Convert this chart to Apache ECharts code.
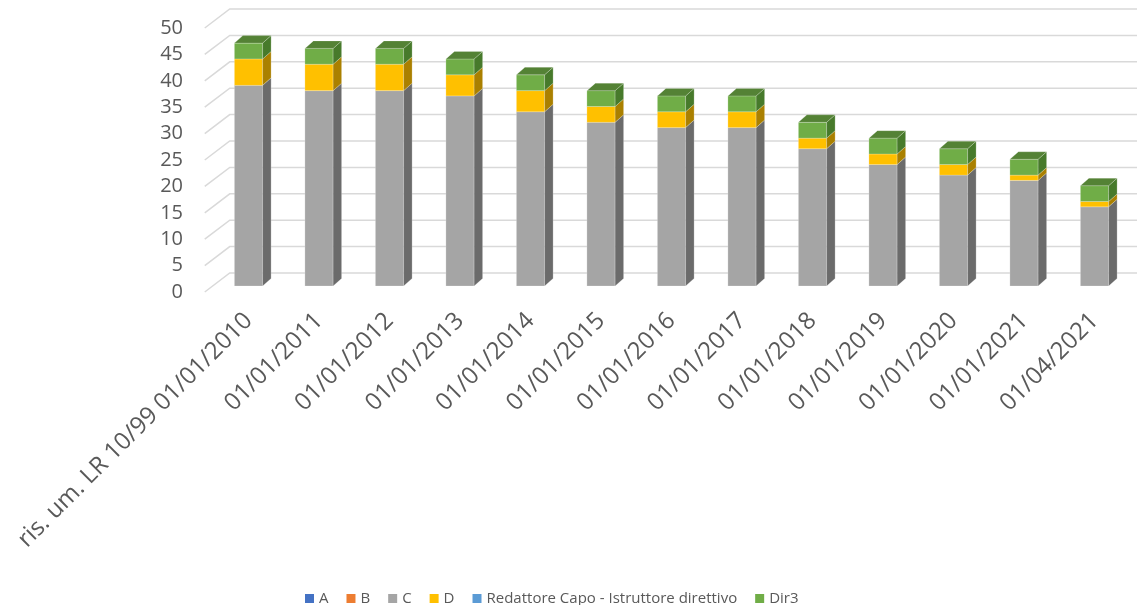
<!DOCTYPE html>
<html>
<head>
<meta charset="utf-8">
<script src="https://cdn.jsdelivr.net/npm/echarts@6/dist/echarts.min.js"></script>
<style>
  html, body { margin: 0; padding: 0; background: #fff; }
  #chart { width: 1137px; height: 605px; }
</style>
</head>
<body>
<div id="chart"></div>
<script>
// Categories (dates) and staff counts per grade
const categories = [
  'ris. um. LR 10/99 01/01/2010', '01/01/2011', '01/01/2012', '01/01/2013',
  '01/01/2014', '01/01/2015', '01/01/2016', '01/01/2017', '01/01/2018',
  '01/01/2019', '01/01/2020', '01/01/2021', '01/04/2021'
];
const seriesNames = ['A', 'B', 'C', 'D', 'Redattore Capo - Istruttore direttivo', 'Dir3'];
const valuesA    = [0, 0, 0, 0, 0, 0, 0, 0, 0, 0, 0, 0, 0];
const valuesB    = [0, 0, 0, 0, 0, 0, 0, 0, 0, 0, 0, 0, 0];
const valuesC    = [38, 37, 37, 36, 33, 31, 30, 30, 26, 23, 21, 20, 15];
const valuesD    = [5, 5, 5, 4, 4, 3, 3, 3, 2, 2, 2, 1, 1];
const valuesRed  = [0, 0, 0, 0, 0, 0, 0, 0, 0, 0, 0, 0, 0];
const valuesDir3 = [3, 3, 3, 3, 3, 3, 3, 3, 3, 3, 3, 3, 3];
const yTicks = [0, 5, 10, 15, 20, 25, 30, 35, 40, 45, 50];

// Face colours: front, side, top
const palette = [
  { front: '#4472C4', side: '#2F5597', top: '#3A62AA' },
  { front: '#ED7D31', side: '#AE5A21', top: '#C5692A' },
  { front: '#A5A5A5', side: '#6B6B6B', top: '#8A8A8A' },
  { front: '#FFC000', side: '#AA8000', top: '#D9A300' },
  { front: '#5B9BD5', side: '#3F72A0', top: '#4E86B8' },
  { front: '#70AD47', side: '#477A2B', top: '#548235' }
];

const FONT = '"Open Sans", "Noto Sans", sans-serif';
// 3D depth offset of each column
const DX = 8.5, DY = -7.5;
// Floor edge offsets relative to the column front plane
const FLOOR_FRONT = { dx: -8.5, dy: 6 };
const FLOOR_BACK = { dx: 16.5, dy: -13 };

const allValues = [valuesA, valuesB, valuesC, valuesD, valuesRed, valuesDir3];

// Build stacked segments: [category, base, top, isTopMost]
const stacked = [];
const cumulative = categories.map(() => 0);
const topIndex = categories.map((_, ci) => {
  let t = -1;
  allValues.forEach((vals, si) => { if (vals[ci] > 0) t = si; });
  return t;
});
allValues.forEach((vals, si) => {
  stacked.push(vals.map((v, ci) => {
    const base = cumulative[ci];
    cumulative[ci] += v;
    return [ci, base, base + v, topIndex[ci] === si ? 1 : 0];
  }));
});

function makeRenderer(colors) {
  return function (params, api) {
    const ci = api.value(0), lo = api.value(1), hi = api.value(2), isTop = api.value(3);
    if (!(hi > lo)) return;
    const pb = api.coord([ci, lo]);
    const pt = api.coord([ci, hi]);
    const bw = api.size([1, 0])[0] * 0.4;
    const x0 = pb[0] - bw / 2, x1 = pb[0] + bw / 2;
    const yb = pb[1], yt = pt[1];
    const edge = 'rgba(255,255,255,0.35)';
    const children = [
      { type: 'rect', shape: { x: x0, y: yt, width: bw, height: yb - yt },
        style: { fill: colors.front, stroke: edge, lineWidth: 0.6 } },
      { type: 'polygon', shape: { points: [[x1, yb], [x1 + DX, yb + DY], [x1 + DX, yt + DY], [x1, yt]] },
        style: { fill: colors.side, stroke: edge, lineWidth: 0.6 } }
    ];
    if (isTop) {
      children.push({ type: 'polygon',
        shape: { points: [[x0, yt], [x1, yt], [x1 + DX, yt + DY], [x0 + DX, yt + DY]] },
        style: { fill: colors.top, stroke: edge, lineWidth: 0.6 } });
    }
    return { type: 'group', children: children };
  };
}

// Back-wall gridlines with the diagonal side-wall segment
function renderGrid(params, api) {
  const v = api.value(1);
  const p = api.coord([0, v]);
  const half = api.size([1, 0])[0] / 2;
  const left = p[0] - half;
  const right = params.coordSys.x + params.coordSys.width + 10;
  return {
    type: 'polyline',
    shape: { points: [
      [left + FLOOR_FRONT.dx, p[1] + FLOOR_FRONT.dy],
      [left + FLOOR_BACK.dx, p[1] + FLOOR_BACK.dy],
      [right, p[1] + FLOOR_BACK.dy]
    ] },
    style: { stroke: '#D9D9D9', lineWidth: 1.5, fill: null }
  };
}

const series = [{
  type: 'custom',
  name: '_grid',
  xAxisIndex: 0, yAxisIndex: 0,
  renderItem: renderGrid,
  data: yTicks.map(v => [0, v]),
  encode: { x: 0, y: 1 },
  z: 1,
  silent: true
}];
seriesNames.forEach((name, si) => {
  series.push({
    type: 'custom',
    name: name,
    xAxisIndex: 0, yAxisIndex: 0,
    renderItem: makeRenderer(palette[si]),
    itemStyle: { color: palette[si].front },
    data: stacked[si],
    encode: { x: 0, y: [1, 2] },
    z: 2 + si
  });
});

const chart = echarts.init(document.getElementById('chart'), null, { renderer: 'canvas' });
chart.setOption({
  backgroundColor: '#ffffff',
  animation: false,
  textStyle: { fontFamily: FONT },
  legend: {
    data: seriesNames.map(n => ({ name: n, icon: 'rect' })),
    left: 300,
    top: 586,
    itemWidth: 9,
    itemHeight: 9,
    itemGap: 18,
    textStyle: { fontFamily: FONT, fontSize: 15, color: '#595959' }
  },
  grid: [
    { left: 213.25, right: 7.25, top: 22, height: 264 },
    { left: 193, width: 10, top: 28, height: 264 }
  ],
  xAxis: [
    {
      type: 'category', gridIndex: 0, data: categories,
      axisLine: { show: false }, axisTick: { show: false }, splitLine: { show: false },
      axisLabel: { rotate: 45, margin: 31, interval: 0, fontSize: 24, color: '#595959', fontFamily: FONT }
    },
    { type: 'value', gridIndex: 1, show: false }
  ],
  yAxis: [
    {
      type: 'value', gridIndex: 0, min: 0, max: 50, interval: 5,
      axisLine: { show: false }, axisTick: { show: false }, splitLine: { show: false },
      axisLabel: { show: false }
    },
    {
      type: 'value', gridIndex: 1, min: 0, max: 50, interval: 5,
      axisLine: { show: false }, axisTick: { show: false }, splitLine: { show: false },
      axisLabel: { fontSize: 20, color: '#595959', margin: 10, fontFamily: FONT }
    }
  ],
  series: series
});
</script>
</body>
</html>
